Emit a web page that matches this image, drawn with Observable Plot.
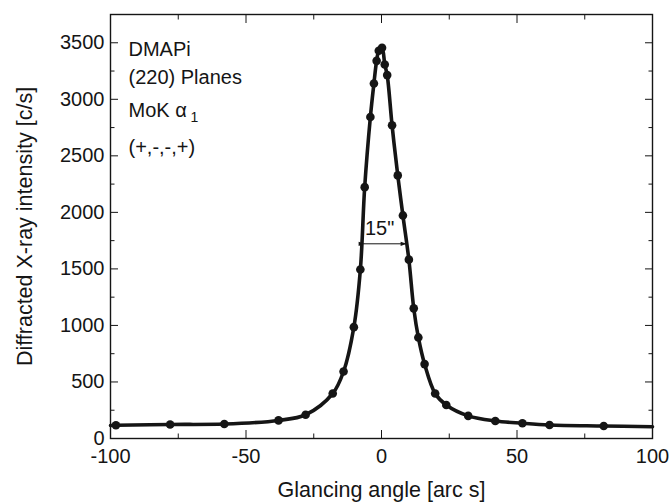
<!DOCTYPE html>
<html><head><meta charset="utf-8">
<script src="https://cdn.jsdelivr.net/npm/d3@7"></script>
<script src="https://cdn.jsdelivr.net/npm/@observablehq/plot@0.6"></script>
<style>body{margin:0;background:#fff}</style>
</head><body><div id="chart"></div>
<script>
// Measured points
const angle = [-98, -78, -58, -38, -28, -18, -14, -10.2, -7.8, -6.2, -4.1, -2.8, -1.8, -1.0, 0.2, 1.2, 2.1, 3.9, 6.0, 7.9, 10.1, 11.9, 13.6, 15.9, 19.8, 23.9, 32, 42, 52, 62, 82];
const intensity = [117, 124, 128, 160, 210, 398, 592, 985, 1494, 2223, 2844, 3140, 3340, 3429, 3455, 3308, 3214, 2770, 2327, 1973, 1582, 1151, 894, 658, 398, 296, 200, 155, 135, 120, 111];
// Fitted curve (extends to the frame)
const fitAngle = [-100, ...angle, 100];
const fitIntensity = [115, ...intensity, 104];
// Axis ticks
const xTicks = [-100, -50, 0, 50, 100];
const xMinor = [-75, -25, 25, 75];
const yTicks = [0, 500, 1000, 1500, 2000, 2500, 3000, 3500];
const yMinor = [250, 750, 1250, 1750, 2250, 2750, 3250];
// Annotations
const infoLines = ["DMAPi", "(220) Planes", "MoK \u03b1", "(+,-,-,+)"];
const fwhmLeft = -6.6, fwhmRight = 8.9, fwhmLevel = 1722, fwhmLabel = "15\"", fwhmLabelX = -0.7, fwhmLabelY = 1860;

const points = angle.map((a, i) => ({a, v: intensity[i]}));
const fit = fitAngle.map((a, i) => ({a, v: fitIntensity[i]}));
const fwhm = [{x1: fwhmLeft, x2: fwhmRight, y: fwhmLevel}];
const fmt = d => String(d);
const ink = "#151515";

const infoDy = [34.6, 63, 96.3, 132.6];

const chart = Plot.plot({
  width: 670, height: 502,
  marginLeft: 110, marginRight: 18, marginTop: 14, marginBottom: 64,
  style: {fontFamily: "'Liberation Sans', Arial, sans-serif", fontSize: "20px", color: ink, background: "#fff"},
  x: {domain: [-100, 100]},
  y: {domain: [0, 3750]},
  marks: [
    // tick labels
    Plot.axisX(xTicks, {anchor: "bottom", tickSize: 0, tickPadding: 10, tickFormat: fmt, label: null, fontSize: 20}),
    Plot.axisY(yTicks, {anchor: "left", tickSize: 0, tickPadding: 6, tickFormat: fmt, label: null, fontSize: 20}),
    // inward ticks on all four sides
    Plot.axisX(xTicks, {anchor: "bottom", tickSize: -8, fill: "none", label: null}),
    Plot.axisX(xMinor, {anchor: "bottom", tickSize: -4.5, fill: "none", label: null}),
    Plot.axisX(xTicks, {anchor: "top", tickSize: -8, fill: "none", label: null}),
    Plot.axisX(xMinor, {anchor: "top", tickSize: -4.5, fill: "none", label: null}),
    Plot.axisY(yTicks, {anchor: "left", tickSize: -8, fill: "none", label: null}),
    Plot.axisY(yMinor, {anchor: "left", tickSize: -4.5, fill: "none", label: null}),
    Plot.axisY(yTicks, {anchor: "right", tickSize: -8, fill: "none", label: null}),
    Plot.axisY(yMinor, {anchor: "right", tickSize: -4.5, fill: "none", label: null}),
    Plot.frame({stroke: ink, strokeWidth: 1.4}),
    // axis titles
    Plot.text(["Glancing angle [arc s]"], {frameAnchor: "bottom", dy: 52, lineAnchor: "middle", fontSize: 21.5, fill: ink}),
    Plot.text(["Diffracted X-ray intensity [c/s]"], {frameAnchor: "left", dx: -85, rotate: -90, textAnchor: "middle", lineAnchor: "middle", fontSize: 21.5, fill: ink}),
    // data
    Plot.line(fit, {x: "a", y: "v", curve: "catmull-rom", stroke: ink, strokeWidth: 3.6}),
    Plot.dot(points, {x: "a", y: "v", r: 4.3, fill: ink}),
    // FWHM arrow
    Plot.link(fwhm, {x1: "x1", x2: "x2", y1: "y", y2: "y", stroke: ink, strokeWidth: 1, markerStart: "arrow", markerEnd: "arrow"}),
    Plot.text([fwhmLabel], {x: fwhmLabelX, y: fwhmLabelY, fontSize: 20, fill: ink, textAnchor: "middle"}),
    // info block
    ...infoLines.map((t, i) => Plot.text([t], {frameAnchor: "top-left", dx: 18, dy: infoDy[i], textAnchor: "start", lineAnchor: "middle", fontSize: 20, fill: ink})),
    Plot.text(["1"], {frameAnchor: "top-left", dx: 80, dy: 103, textAnchor: "start", lineAnchor: "middle", fontSize: 14, fill: ink})
  ]
});
// make the arrowheads small filled triangles
chart.querySelectorAll("marker").forEach(m => {
  m.setAttribute("overflow", "visible");
  m.querySelectorAll("path").forEach(p => {
    p.setAttribute("d", "M-7.5,-3.2L1.5,0L-7.5,3.2Z");
    p.setAttribute("fill", ink);
    p.setAttribute("stroke", "none");
  });
});
document.getElementById("chart").appendChild(chart);
</script>
</body></html>
